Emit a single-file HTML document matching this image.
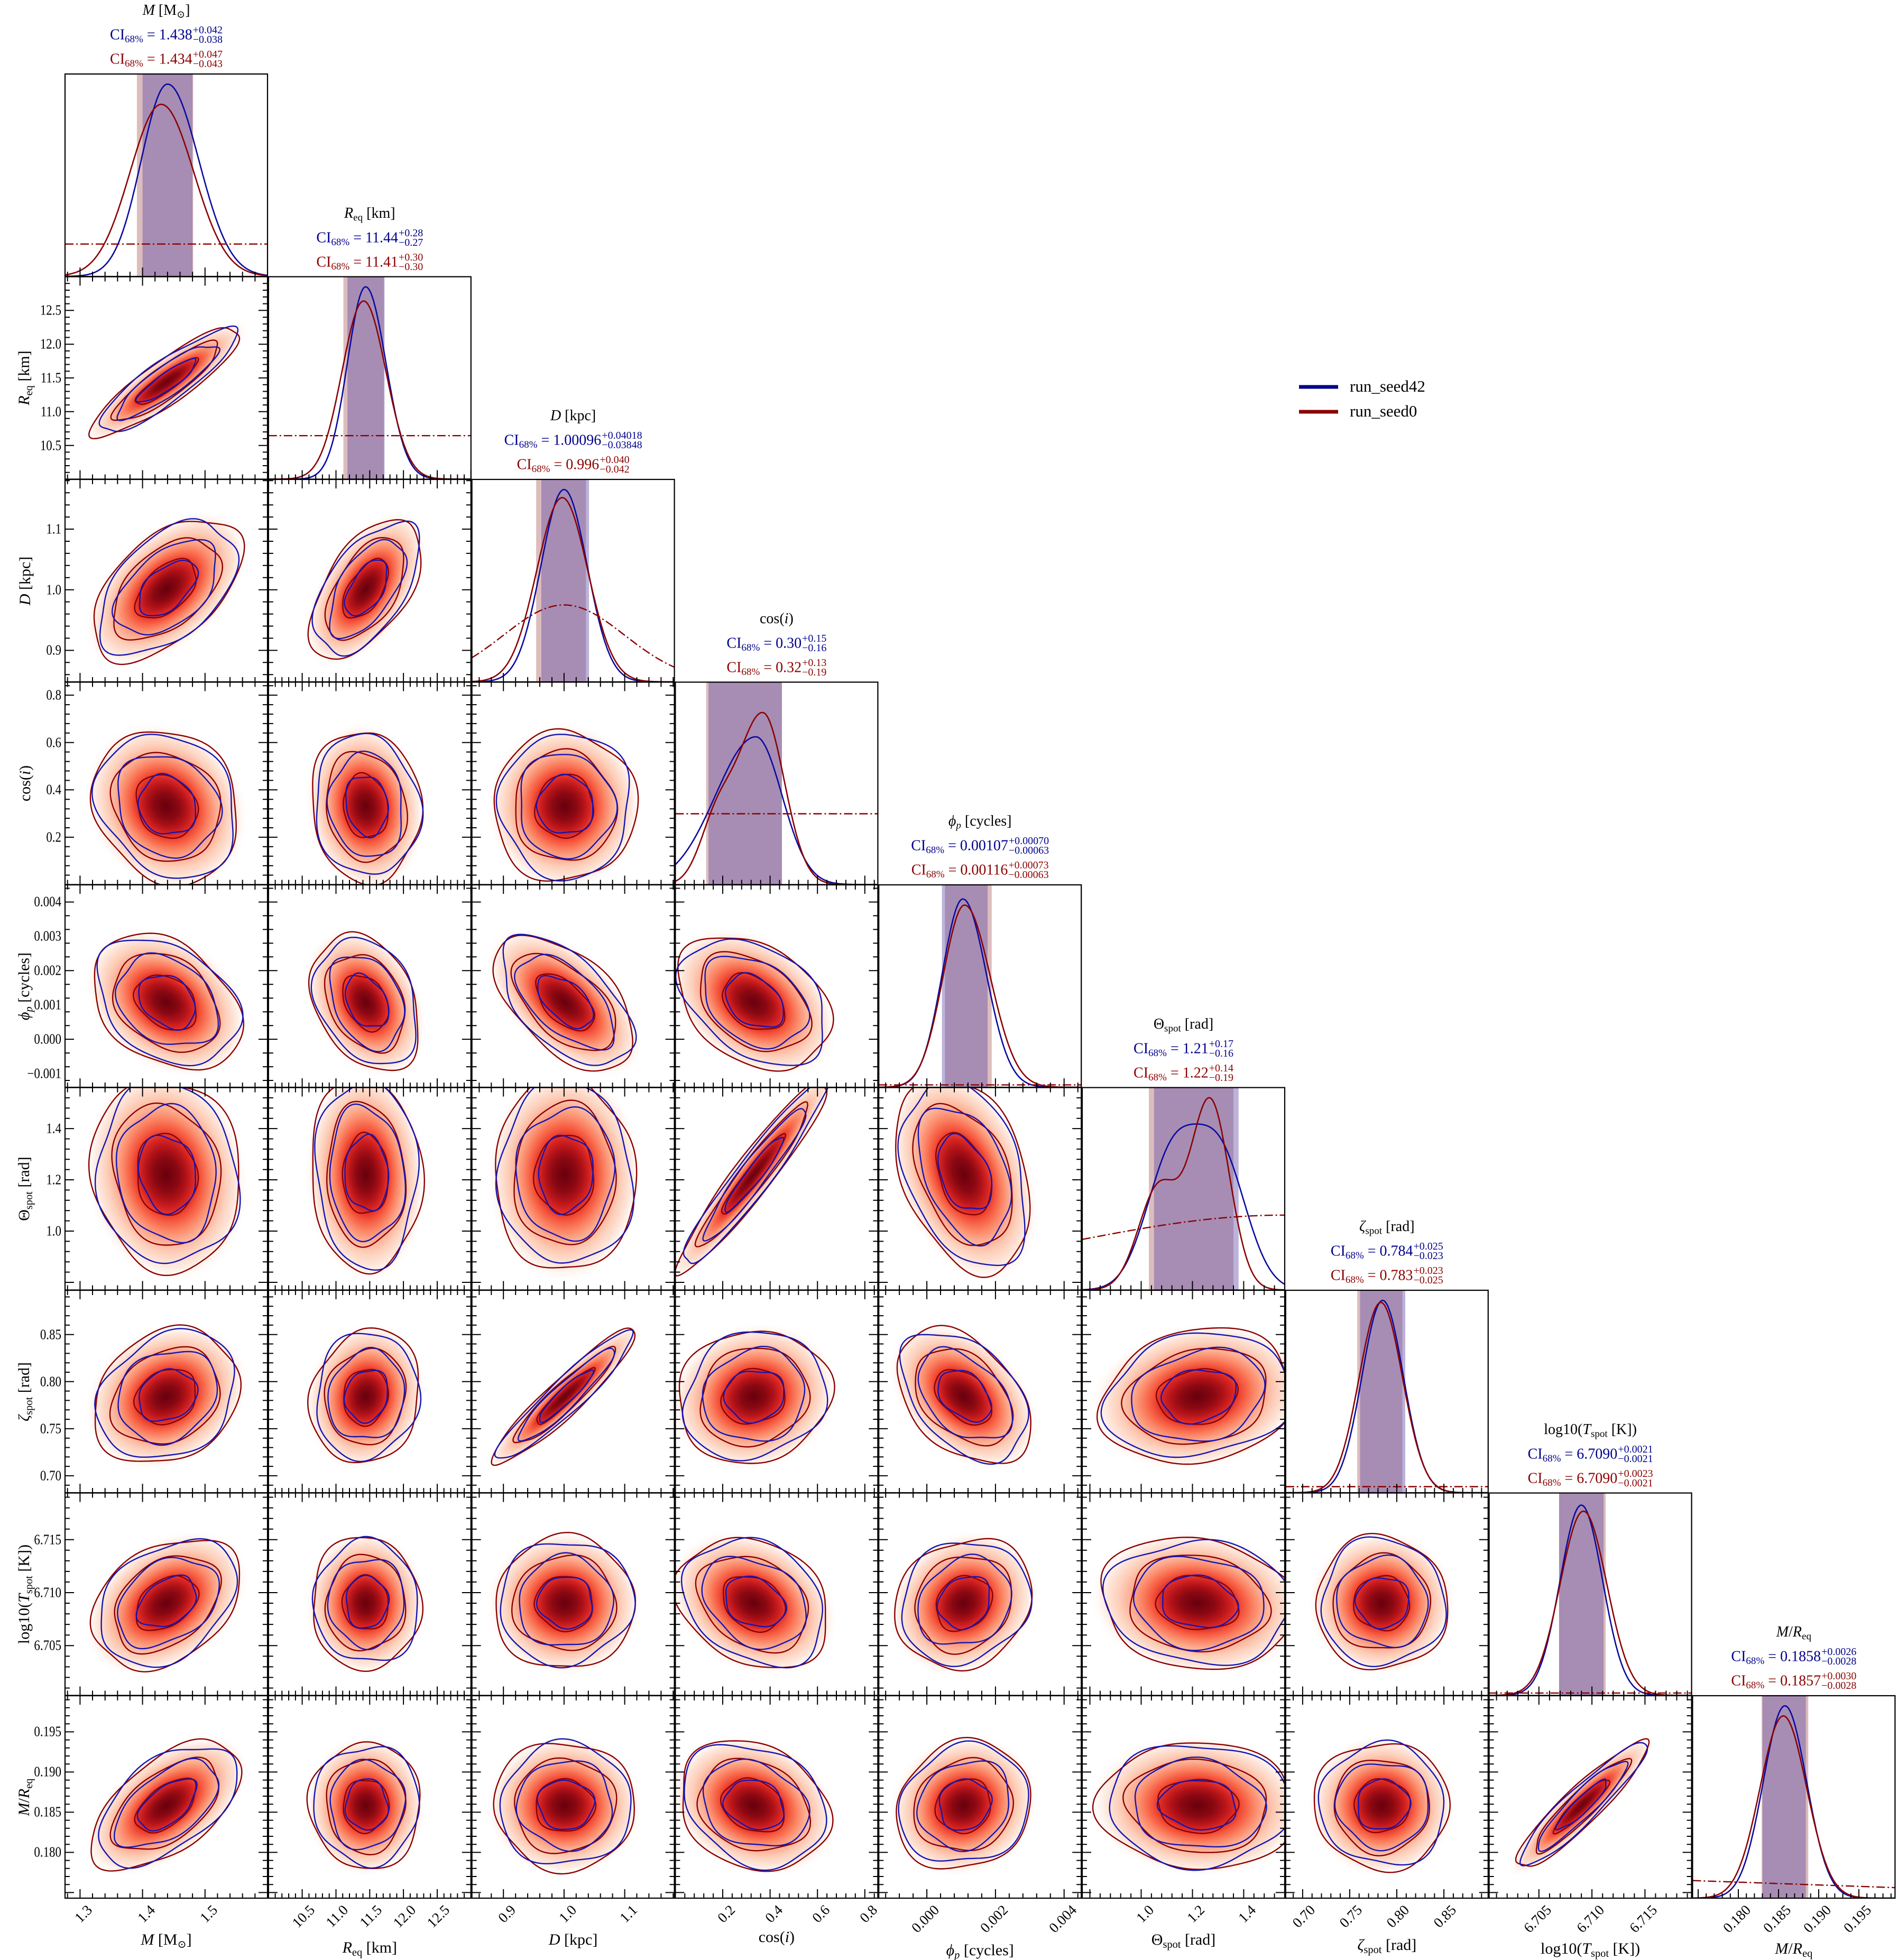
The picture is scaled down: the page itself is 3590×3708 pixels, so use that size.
<!DOCTYPE html>
<html><head><meta charset="utf-8">
<style>
html,body{margin:0;padding:0;background:#fff;}
#wrap{position:relative;width:3590px;height:3708px;overflow:hidden;font-family:"Liberation Serif","DejaVu Serif",serif;color:#000;}
svg{position:absolute;left:0;top:0;}
.t{position:absolute;white-space:nowrap;font-size:28px;line-height:30px;}
.c{transform:translateX(-50%);}
.sub{font-size:0.68em;vertical-align:-0.3em;}
.ss{display:inline-flex;flex-direction:column;vertical-align:middle;font-size:20px;line-height:18px;margin-left:1px;position:relative;top:-2px;}
.b{color:#00008b;} .r{color:#8b0000;}
.yl{position:absolute;white-space:nowrap;font-size:30px;transform:translate(-50%,-50%) rotate(-90deg);}
.yt{position:absolute;white-space:nowrap;font-size:27px;transform:translate(-100%,-50%) scaleX(0.85);transform-origin:100% 50%;}
.xt{position:absolute;white-space:nowrap;font-size:27px;transform-origin:100% 0;}
.xl{position:absolute;white-space:nowrap;font-size:30px;transform:translateX(-50%);}
</style></head>
<body><div id="wrap"></div>
<script>
(function(){
var X0=123,PX=384.8,Y0=140,PY=383.5,W=383;
var P=[
{lo:1.276,hi:1.6,mb:1.438,pb:0.042,nb:0.038,mr:1.434,pr:0.047,nr:0.043,ticks:[1.3,1.4,1.5],lab:['1.3','1.4','1.5'],
 title:'<i>M</i> [M<span class="sub">⊙</span>]',cib:'1.438',cibp:'+0.042',cibn:'−0.038',cir:'1.434',cirp:'+0.047',cirn:'−0.043',pk:[0.95,0.85],prior:function(t){return 0.16;},xly:3655},
{lo:10.0,hi:13.0,mb:11.44,pb:0.28,nb:0.27,mr:11.41,pr:0.30,nr:0.30,ticks:[10.5,11,11.5,12,12.5],lab:['10.5','11.0','11.5','12.0','12.5'],
 title:'<i>R</i><span class="sub">eq</span> [km]',cib:'11.44',cibp:'+0.28',cibn:'−0.27',cir:'11.41',cirp:'+0.30',cirn:'−0.30',pk:[0.95,0.88],prior:function(t){return 0.215;},xly:3670},
{lo:0.848,hi:1.182,mb:1.00096,pb:0.04018,nb:0.03848,mr:0.996,pr:0.040,nr:0.042,ticks:[0.9,1.0,1.1],lab:['0.9','1.0','1.1'],
 title:'<i>D</i> [kpc]',cib:'1.00096',cibp:'+0.04018',cibn:'−0.03848',cir:'0.996',cirp:'+0.040',cirn:'−0.042',pk:[0.95,0.91],prior:function(t,x){return 0.38*Math.exp(-Math.pow((x-1.0)/0.1,2)/2);},xly:3655},
{lo:0.0,hi:0.855,mb:0.30,pb:0.15,nb:0.16,mr:0.32,pr:0.13,nr:0.19,ticks:[0.2,0.4,0.6,0.8],lab:['0.2','0.4','0.6','0.8'],s2:0.7,m2:0.33,
 title:'cos(<i>i</i>)',cib:'0.30',cibp:'+0.15',cibn:'−0.16',cir:'0.32',cirp:'+0.13',cirn:'−0.19',pk:[0.73,0.85],prior:function(t){return 0.35;},xly:3650},
{lo:-0.0014,hi:0.0045,mb:0.00107,pb:0.0007,nb:0.00063,mr:0.00116,pr:0.00073,nr:0.00063,ticks:[0,0.002,0.004],lab:['0.000','0.002','0.004'],
 yticks:[-0.001,0,0.001,0.002,0.003,0.004],ylab:['−0.001','0.000','0.001','0.002','0.003','0.004'],
 title:'<i>ϕ<span class="sub">p</span></i> [cycles]',cib:'0.00107',cibp:'+0.00070',cibn:'−0.00063',cir:'0.00116',cirp:'+0.00073',cirn:'−0.00063',pk:[0.93,0.90],prior:function(t){return 0.012;},xly:3675},
{lo:0.77,hi:1.56,mb:1.21,pb:0.17,nb:0.16,mr:1.22,pr:0.14,nr:0.19,ticks:[1.0,1.2,1.4],lab:['1.0','1.2','1.4'],s2:0.78,m2:1.22,
 title:'Θ<span class="sub">spot</span> [rad]',cib:'1.21',cibp:'+0.17',cibn:'−0.16',cir:'1.22',cirp:'+0.14',cirn:'−0.19',pk:[0.82,0.95],prior:function(t){return 0.25+0.12*Math.sin(Math.PI/2*t);},xly:3655},
{lo:0.682,hi:0.897,mb:0.784,pb:0.025,nb:0.023,mr:0.783,pr:0.023,nr:0.025,ticks:[0.70,0.75,0.80,0.85],lab:['0.70','0.75','0.80','0.85'],
 title:'<i>ζ</i><span class="sub">spot</span> [rad]',cib:'0.784',cibp:'+0.025',cibn:'−0.023',cir:'0.783',cirp:'+0.023',cirn:'−0.025',pk:[0.95,0.94],prior:function(t){return 0.03;},xly:3665},
{lo:6.7003,hi:6.7194,mb:6.709,pb:0.0021,nb:0.0021,mr:6.709,pr:0.0023,nr:0.0021,ticks:[6.705,6.710,6.715],lab:['6.705','6.710','6.715'],
 title:'log10(<i>T</i><span class="sub">spot</span> [K])',cib:'6.7090',cibp:'+0.0021',cibn:'−0.0021',cir:'6.7090',cirp:'+0.0023',cirn:'−0.0021',pk:[0.94,0.91],prior:function(t){return 0.012;},xly:3672},
{lo:0.1743,hi:0.1995,mb:0.1858,pb:0.0026,nb:0.0028,mr:0.1857,pr:0.0030,nr:0.0028,ticks:[0.180,0.185,0.190,0.195],lab:['0.180','0.185','0.190','0.195'],
 title:'<i>M</i>/<i>R</i><span class="sub">eq</span>',cib:'0.1858',cibp:'+0.0026',cibn:'−0.0028',cir:'0.1857',cirp:'+0.0030',cirn:'−0.0028',pk:[0.95,0.90],prior:function(t){return 0.087-0.035*t;},xly:3672}
];
var RHO={'0,1':0.88,'0,2':0.5,'1,2':0.55,'0,3':-0.15,'1,3':-0.1,'2,3':0,
'0,4':-0.3,'1,4':-0.3,'2,4':-0.55,'3,4':-0.35,
'0,5':-0.1,'1,5':-0.05,'2,5':0,'3,5':0.95,'4,5':-0.35,
'0,6':0.2,'1,6':0.1,'2,6':0.93,'3,6':0.1,'4,6':-0.4,'5,6':0.15,
'0,7':0.35,'1,7':0,'2,7':0,'3,7':-0.25,'4,7':0.15,'5,7':-0.1,'6,7':0,
'0,8':0.55,'1,8':0,'2,8':0,'3,8':-0.2,'4,8':0.1,'5,8':-0.05,'6,8':0,'7,8':0.92};
function L(i){return X0+i*PX;} function T(j){return Y0+j*PY;}
function xs(i,v){var p=P[i];return L(i)+(v-p.lo)/(p.hi-p.lo)*W;}
function ys(j,v){var p=P[j];return T(j)+W-(v-p.lo)/(p.hi-p.lo)*W;}
function N(x,m,s){return Math.exp(-0.5*Math.pow((x-m)/s,2));}
function SN(x,m,sl,sr){return x<m?N(x,m,sl):N(x,m,sr);}
var pdf=[
 [function(x){return SN(x,1.44,0.042,0.05);},function(x){return SN(x,1.43,0.05,0.052);}],
 [function(x){return SN(x,11.44,0.27,0.30);},function(x){return SN(x,11.41,0.32,0.33);}],
 [function(x){return N(x,1.0,0.038);},function(x){return N(x,0.997,0.042);}],
 [function(x){return SN(x,0.34,0.17,0.11);},function(x){return SN(x,0.37,0.11,0.09)+0.3*N(x,0.17,0.07);}],
 [function(x){return SN(x,0.00105,0.0006,0.00068);},function(x){return SN(x,0.00110,0.00063,0.00075);}],
 [function(x){return N(x,1.12,0.1)+1.0*N(x,1.31,0.1);},function(x){return N(x,1.27,0.075)+0.55*N(x,1.07,0.08);}],
 [function(x){return N(x,0.785,0.022);},function(x){return N(x,0.783,0.023);}],
 [function(x){return N(x,6.709,0.0020);},function(x){return N(x,6.7092,0.0022);}],
 [function(x){return N(x,0.1858,0.0027);},function(x){return N(x,0.1856,0.0029);}]
];
var s='<svg width="3590" height="3708" xmlns="http://www.w3.org/2000/svg"><defs>'+
'<radialGradient id="rg"><stop offset="0" stop-color="#67000d"/><stop offset="0.15" stop-color="#8a0812"/><stop offset="0.24" stop-color="#b11218"/><stop offset="0.33" stop-color="#d92624"/><stop offset="0.42" stop-color="#f5553c"/><stop offset="0.515" stop-color="#fb8464"/><stop offset="0.606" stop-color="#fcab8f"/><stop offset="0.727" stop-color="#fdd0bc"/><stop offset="0.85" stop-color="#feeae0"/><stop offset="1" stop-color="#ffffff" stop-opacity="0"/></radialGradient>';
for(var j=0;j<9;j++)for(var i=0;i<=j;i++){s+='<clipPath id="c'+i+'_'+j+'"><rect x="'+L(i)+'" y="'+T(j)+'" width="'+W+'" height="'+W+'"/></clipPath>';}
s+='</defs>';
var html='';
function ticksX(i,j,both){
 var p=P[i],t=p.ticks,st=(t[1]-t[0])/5,o='',y0=T(j)+W,y1=T(j);
 for(var v=t[0]-10*st;v<=p.hi+1e-12;v+=st){ if(v<p.lo-1e-12)continue;
  var k=Math.round((v-t[0])/st),maj=(k%5==0),x=xs(i,v),len=maj?17:9;
  o+='M'+x.toFixed(1)+' '+y0+'v'+(-len);
  if(both)o+='M'+x.toFixed(1)+' '+y1+'v'+len;}
 return o;}
function ticksY(i,j){
 var p=P[j],t=p.ticks,st=(t[1]-t[0])/5,o='',x0=L(i),x1=L(i)+W;
 for(var v=t[0]-10*st;v<=p.hi+1e-12;v+=st){ if(v<p.lo-1e-12)continue;
  var k=Math.round((v-t[0])/st),maj=(k%5==0),y=ys(j,v),len=maj?17:9;
  o+='M'+x0+' '+y.toFixed(1)+'h'+len+'M'+x1+' '+y.toFixed(1)+'h'+(-len);}
 return o;}
function contour(r,a,b,d,cx,cy,ph,amp){
 var o='';
 for(var k=0;k<=120;k++){var t=k/120*2*Math.PI;
  var rr=r*(1+amp*Math.sin(3*t+ph)+amp*0.8*Math.sin(5*t+ph*1.7)+amp*0.5*Math.sin(2*t+ph*2.3));
  var u=rr*Math.cos(t),v=rr*Math.sin(t);
  var x=cx+a*u,y=cy+b*u+d*v;
  o+=(k?'L':'M')+x.toFixed(1)+' '+y.toFixed(1);}
 return o+'Z';}
for(var j=0;j<9;j++){
 for(var i=0;i<=j;i++){
  var x0=L(i),y0=T(j),cp='url(#c'+i+'_'+j+')';
  if(i==j){
   var p=P[i],base=y0+W;
   var bl=[xs(i,p.mb-p.nb),xs(i,p.mb+p.pb)],rl=[xs(i,p.mr-p.nr),xs(i,p.mr+p.pr)];
   s+='<g clip-path="'+cp+'">';
   s+='<rect x="'+rl[0]+'" y="'+y0+'" width="'+(rl[1]-rl[0])+'" height="'+W+'" fill="#8b2626" fill-opacity="0.3"/>';
   s+='<rect x="'+bl[0]+'" y="'+y0+'" width="'+(bl[1]-bl[0])+'" height="'+W+'" fill="#5d4ba8" fill-opacity="0.42"/>';
   for(var c=0;c<2;c++){
    var f=pdf[i][c],mx=0,vals=[];
    for(var k=0;k<=300;k++){var x=p.lo+(p.hi-p.lo)*k/300;var v=f(x);vals.push(v);if(v>mx)mx=v;}
    var d='';
    for(var k=0;k<=300;k++){d+=(k?'L':'M')+(x0+W*k/300).toFixed(1)+' '+(base-vals[k]/mx*p.pk[c]*W).toFixed(1);}
    s+='<path d="'+d+'" fill="none" stroke="'+(c?'#8b0000':'#0a0aa0')+'" stroke-width="2.6"/>';
   }
   var d='';
   for(var k=0;k<=100;k++){var t=k/100,x=p.lo+(p.hi-p.lo)*t;d+=(k?'L':'M')+(x0+W*t).toFixed(1)+' '+(base-p.prior(t,x)*W).toFixed(1);}
   s+='<path d="'+d+'" fill="none" stroke="#8b0000" stroke-width="2.4" stroke-dasharray="16,5,3,5"/>';
   s+='</g>';
   s+='<path d="'+ticksX(i,j,false)+'" stroke="#000" stroke-width="2"/>';
   s+='<rect x="'+x0+'" y="'+y0+'" width="'+W+'" height="'+W+'" fill="none" stroke="#000" stroke-width="2.2"/>';
  } else {
   var pi=P[i],pj=P[j],rho=RHO[i+','+j]||0;
   var sx=(pi.pb+pi.nb)/2/(pi.hi-pi.lo)*W*(pi.s2||1), sy=(pj.pb+pj.nb)/2/(pj.hi-pj.lo)*W*(pj.s2||1);
   var cx=xs(i,pi.m2||pi.mb),cy=ys(j,pj.m2||pj.mb);
   var a=sx,b=-rho*sy,dd=sy*Math.sqrt(1-rho*rho);
   s+='<g clip-path="'+cp+'">';
   s+='<g transform="matrix('+a+' '+b+' 0 '+dd+' '+cx+' '+cy+')"><circle r="3.3" fill="url(#rg)"/></g>';
   var seed=i*7+j*13;
   var lv=[1.2,2.1,2.9];
   for(var q=0;q<3;q++){
    s+='<path d="'+contour(lv[q]*1.02,a,b,dd,cx,cy,seed*0.7+q,0.035)+'" fill="none" stroke="#8b0000" stroke-width="2.4"/>';
    s+='<path d="'+contour(lv[q]*0.96,a,b,dd,cx+2,cy-2,seed*1.3+q*2,0.045)+'" fill="none" stroke="#1414b4" stroke-width="2.4"/>';
   }
   s+='</g>';
   s+='<path d="'+ticksX(i,j,true)+ticksY(i,j)+'" stroke="#000" stroke-width="2"/>';
   s+='<rect x="'+x0+'" y="'+y0+'" width="'+W+'" height="'+W+'" fill="none" stroke="#000" stroke-width="2.2"/>';
  }
 }
}
s+='<line x1="2457" y1="732" x2="2531" y2="732" stroke="#00008b" stroke-width="7"/>';
s+='<line x1="2457" y1="779" x2="2531" y2="779" stroke="#8b0000" stroke-width="7"/>';
s+='</svg>';
html+='<div class="t" style="left:2553px;top:714px;font-size:31px;line-height:34px">run_seed42</div>';
html+='<div class="t" style="left:2553px;top:761px;font-size:31px;line-height:34px">run_seed0</div>';
for(var k=0;k<9;k++){
 var p=P[k],pcx=L(k)+W/2,ptop=T(k);
 html+='<div class="t c" style="left:'+pcx+'px;top:'+(ptop-135)+'px">'+p.title+'</div>';
 html+='<div class="t c b" style="left:'+pcx+'px;top:'+(ptop-90)+'px">CI<span class="sub">68%</span> = '+p.cib+'<span class="ss"><span>'+p.cibp+'</span><span>'+p.cibn+'</span></span></div>';
 html+='<div class="t c r" style="left:'+pcx+'px;top:'+(ptop-44)+'px">CI<span class="sub">68%</span> = '+p.cir+'<span class="ss"><span>'+p.cirp+'</span><span>'+p.cirn+'</span></span></div>';
 for(var q=0;q<p.ticks.length;q++){
  var x=xs(k,p.ticks[q]);
  html+='<div class="xt" style="left:'+(x+8)+'px;top:3598px;transform:translateX(-100%) rotate(-45deg)">'+p.lab[q]+'</div>';
 }
 html+='<div class="xl" style="left:'+pcx+'px;top:'+(p.xly-2)+'px">'+p.title+'</div>';
 if(k>=1){
  var pcy=T(k)+W/2;
  html+='<div class="yl" style="left:48px;top:'+pcy+'px">'+p.title+'</div>';
  var yt=p.yticks||p.ticks, yl=p.ylab||p.lab;
  for(var q=0;q<yt.length;q++){
   html+='<div class="yt" style="left:116px;top:'+ys(k,yt[q])+'px">'+yl[q]+'</div>';
  }
 }
}
document.getElementById('wrap').innerHTML=s+html;
})();
</script>
</body></html>
